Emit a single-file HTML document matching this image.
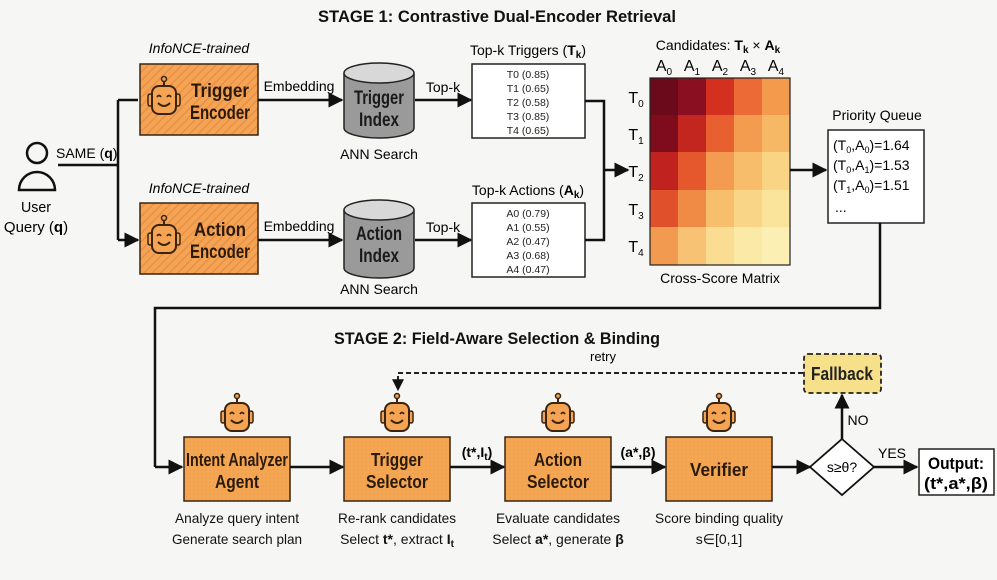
<!DOCTYPE html>
<html><head><meta charset="utf-8"><style>
html,body{margin:0;padding:0;background:#f6f6f4;}
svg{display:block;font-family:"Liberation Sans",Arial,sans-serif;}
</style></head><body>
<svg width="997" height="580" viewBox="0 0 997 580" xmlns="http://www.w3.org/2000/svg">
<defs>
<pattern id="st" width="6" height="6" patternUnits="userSpaceOnUse" patternTransform="rotate(45)">
<rect width="6" height="6" fill="#f4a452"/><rect width="1.5" height="6" fill="#e8904a"/></pattern>
<pattern id="dt" width="4" height="4" patternUnits="userSpaceOnUse">
<rect width="4" height="4" fill="#f5a653"/><circle cx="2" cy="2" r="0.6" fill="#e39448"/></pattern>
<marker id="ar" viewBox="0 0 10 10" refX="9" refY="5" markerWidth="6" markerHeight="6" orient="auto"><path d="M0,0L10,5L0,10z" fill="#111"/></marker>
<g id="rb">
<line x1="17" y1="4" x2="17" y2="10" stroke="#3a2410" stroke-width="2"/>
<circle cx="17" cy="3" r="2.5" fill="#f4a452" stroke="#3a2410" stroke-width="1.5"/>
<rect x="1" y="18" width="4" height="12" rx="2" fill="#f4a452" stroke="#3a2410" stroke-width="1.5"/>
<rect x="29" y="18" width="4" height="12" rx="2" fill="#f4a452" stroke="#3a2410" stroke-width="1.5"/>
<rect x="5" y="10" width="24" height="28" rx="7" fill="#f4a452" stroke="#3a2410" stroke-width="2"/>
<path d="M10,21q2,-3 4,0M20,21q2,-3 4,0" fill="none" stroke="#3a2410" stroke-width="1.8"/>
<path d="M11,27q6,6 12,0" fill="none" stroke="#3a2410" stroke-width="2"/>
</g>
</defs>

<text x="497" y="22" text-anchor="middle" font-size="17" font-weight="bold" fill="#111" textLength="358" lengthAdjust="spacingAndGlyphs">STAGE 1: Contrastive Dual-Encoder Retrieval</text>

<circle cx="37" cy="153" r="10" fill="none" stroke="#111" stroke-width="2.5"/>
<path d="M19,190 A18,18 0 0 1 55,190 Z" fill="none" stroke="#111" stroke-width="2.5"/>
<text x="36" y="212" text-anchor="middle" font-size="15" textLength="30" lengthAdjust="spacingAndGlyphs">User</text>
<text x="36" y="232" text-anchor="middle" font-size="15">Query (<tspan font-weight="bold">q</tspan>)</text>
<text x="56" y="158" font-size="14">SAME (<tspan font-weight="bold">q</tspan>)</text>
<path d="M58,165H118M118,100V240" fill="none" stroke="#111" stroke-width="2.5"/>
<path d="M118,100H138M118,240H138" fill="none" stroke="#111" stroke-width="2.5" marker-end="url(#ar)"/>

<text x="199" y="53" text-anchor="middle" font-size="14" font-style="italic">InfoNCE-trained</text>
<rect x="140" y="64" width="118" height="71" fill="url(#st)" stroke="#3a2410" stroke-width="1.5"/>
<use href="#rb" x="147" y="76"/>
<text x="220" y="97" text-anchor="middle" font-size="19" font-weight="bold" fill="#2a1a0a" textLength="58" lengthAdjust="spacingAndGlyphs">Trigger</text>
<text x="220" y="119" text-anchor="middle" font-size="19" font-weight="bold" fill="#2a1a0a" textLength="60" lengthAdjust="spacingAndGlyphs">Encoder</text>

<text x="199" y="193" text-anchor="middle" font-size="14" font-style="italic">InfoNCE-trained</text>
<rect x="140" y="203" width="118" height="71" fill="url(#st)" stroke="#3a2410" stroke-width="1.5"/>
<use href="#rb" x="147" y="215"/>
<text x="220" y="236" text-anchor="middle" font-size="19" font-weight="bold" fill="#2a1a0a" textLength="52" lengthAdjust="spacingAndGlyphs">Action</text>
<text x="220" y="258" text-anchor="middle" font-size="19" font-weight="bold" fill="#2a1a0a" textLength="60" lengthAdjust="spacingAndGlyphs">Encoder</text>

<text x="299" y="91" text-anchor="middle" font-size="14">Embedding</text>
<line x1="258" y1="100" x2="342" y2="100" stroke="#111" stroke-width="2.5" marker-end="url(#ar)"/>
<text x="299" y="231" text-anchor="middle" font-size="14">Embedding</text>
<line x1="258" y1="240" x2="342" y2="240" stroke="#111" stroke-width="2.5" marker-end="url(#ar)"/>

<path d="M344,73V128A35,10 0 0 0 414,128V73" fill="#9a9a9a" stroke="#222" stroke-width="1.5"/>
<ellipse cx="379" cy="73" rx="35" ry="10" fill="#d8d8d8" stroke="#222" stroke-width="1.5"/>
<text x="379" y="104" text-anchor="middle" font-size="19" font-weight="bold" fill="#1a1a1a" textLength="50" lengthAdjust="spacingAndGlyphs">Trigger</text>
<text x="379" y="126" text-anchor="middle" font-size="19" font-weight="bold" fill="#1a1a1a" textLength="40" lengthAdjust="spacingAndGlyphs">Index</text>
<text x="379" y="159" text-anchor="middle" font-size="14">ANN Search</text>
<path d="M344,210V268A35,10 0 0 0 414,268V210" fill="#9a9a9a" stroke="#222" stroke-width="1.5"/>
<ellipse cx="379" cy="210" rx="35" ry="10" fill="#d8d8d8" stroke="#222" stroke-width="1.5"/>
<text x="379" y="240" text-anchor="middle" font-size="19" font-weight="bold" fill="#1a1a1a" textLength="46" lengthAdjust="spacingAndGlyphs">Action</text>
<text x="379" y="262" text-anchor="middle" font-size="19" font-weight="bold" fill="#1a1a1a" textLength="40" lengthAdjust="spacingAndGlyphs">Index</text>
<text x="379" y="294" text-anchor="middle" font-size="14">ANN Search</text>

<text x="443" y="92" text-anchor="middle" font-size="14">Top-k</text>
<line x1="415" y1="100" x2="471" y2="100" stroke="#111" stroke-width="2.5" marker-end="url(#ar)"/>
<text x="443" y="232" text-anchor="middle" font-size="14">Top-k</text>
<line x1="415" y1="240" x2="471" y2="240" stroke="#111" stroke-width="2.5" marker-end="url(#ar)"/>

<text x="528" y="55" text-anchor="middle" font-size="14">Top-k Triggers (<tspan font-weight="bold">T</tspan><tspan font-weight="bold" font-size="10" dy="3">k</tspan><tspan dy="-3">)</tspan></text>
<rect x="472" y="64" width="113" height="74" fill="#fff" stroke="#222" stroke-width="1.5"/>
<g font-size="10.5" text-anchor="middle" fill="#222">
<text x="528" y="78">T0 (0.85)</text><text x="528" y="92">T1 (0.65)</text><text x="528" y="106">T2 (0.58)</text><text x="528" y="120">T3 (0.85)</text><text x="528" y="134">T4 (0.65)</text>
</g>
<text x="528" y="195" text-anchor="middle" font-size="14">Top-k Actions (<tspan font-weight="bold">A</tspan><tspan font-weight="bold" font-size="10" dy="3">k</tspan><tspan dy="-3">)</tspan></text>
<rect x="472" y="203" width="113" height="74" fill="#fff" stroke="#222" stroke-width="1.5"/>
<g font-size="10.5" text-anchor="middle" fill="#222">
<text x="528" y="217">A0 (0.79)</text><text x="528" y="231">A1 (0.55)</text><text x="528" y="245">A2 (0.47)</text><text x="528" y="259">A3 (0.68)</text><text x="528" y="273">A4 (0.47)</text>
</g>
<path d="M585,101H604V240H585" fill="none" stroke="#111" stroke-width="2.5"/>
<line x1="604" y1="170" x2="628" y2="170" stroke="#111" stroke-width="2.5" marker-end="url(#ar)"/>

<text x="718" y="50" text-anchor="middle" font-size="14">Candidates: <tspan font-weight="bold">T</tspan><tspan font-weight="bold" font-size="10" dy="3">k</tspan><tspan dy="-3"> × </tspan><tspan font-weight="bold">A</tspan><tspan font-weight="bold" font-size="10" dy="3">k</tspan></text>
<g font-size="16" text-anchor="middle">
<text x="664" y="71">A<tspan font-size="10" dy="4">0</tspan></text>
<text x="692" y="71">A<tspan font-size="10" dy="4">1</tspan></text>
<text x="720" y="71">A<tspan font-size="10" dy="4">2</tspan></text>
<text x="748" y="71">A<tspan font-size="10" dy="4">3</tspan></text>
<text x="776" y="71">A<tspan font-size="10" dy="4">4</tspan></text>
<text x="636" y="103">T<tspan font-size="10" dy="4">0</tspan></text>
<text x="636" y="140">T<tspan font-size="10" dy="4">1</tspan></text>
<text x="636" y="177">T<tspan font-size="10" dy="4">2</tspan></text>
<text x="636" y="215">T<tspan font-size="10" dy="4">3</tspan></text>
<text x="636" y="252">T<tspan font-size="10" dy="4">4</tspan></text>
</g>
<rect x="650" y="78" width="28" height="38" fill="#6b0a1a"/><rect x="678" y="78" width="28" height="38" fill="#8a0f20"/><rect x="706" y="78" width="28" height="38" fill="#d3301f"/><rect x="734" y="78" width="28" height="38" fill="#ec6a35"/><rect x="762" y="78" width="28" height="38" fill="#f39a4c"/>
<rect x="650" y="115" width="28" height="38" fill="#7e0c1c"/><rect x="678" y="115" width="28" height="38" fill="#c3261f"/><rect x="706" y="115" width="28" height="38" fill="#e8602f"/><rect x="734" y="115" width="28" height="38" fill="#f39c50"/><rect x="762" y="115" width="28" height="38" fill="#f7b865"/>
<rect x="650" y="152" width="28" height="38" fill="#c0231f"/><rect x="678" y="152" width="28" height="38" fill="#e5582d"/><rect x="706" y="152" width="28" height="38" fill="#f39b50"/><rect x="734" y="152" width="28" height="38" fill="#f7bd6a"/><rect x="762" y="152" width="28" height="38" fill="#f9d485"/>
<rect x="650" y="190" width="28" height="38" fill="#e0502a"/><rect x="678" y="190" width="28" height="38" fill="#f08b45"/><rect x="706" y="190" width="28" height="38" fill="#f7be6c"/><rect x="734" y="190" width="28" height="38" fill="#f9d588"/><rect x="762" y="190" width="28" height="38" fill="#fae39a"/>
<rect x="650" y="227" width="28" height="38" fill="#f29a4f"/><rect x="678" y="227" width="28" height="38" fill="#f7c274"/><rect x="706" y="227" width="28" height="38" fill="#fadc92"/><rect x="734" y="227" width="28" height="38" fill="#fbe9a8"/><rect x="762" y="227" width="28" height="38" fill="#fcefb4"/>
<rect x="650" y="78" width="140" height="187" fill="none" stroke="#222" stroke-width="1.2"/>
<text x="720" y="283" text-anchor="middle" font-size="14">Cross-Score Matrix</text>
<line x1="790" y1="170" x2="826" y2="170" stroke="#111" stroke-width="2.5" marker-end="url(#ar)"/>

<text x="877" y="120" text-anchor="middle" font-size="14">Priority Queue</text>
<rect x="828" y="130" width="96" height="93" fill="#fff" stroke="#222" stroke-width="1.5"/>
<g font-size="14">
<text x="833" y="150">(T<tspan font-size="9" dy="3">0</tspan><tspan dy="-3">,A</tspan><tspan font-size="9" dy="3">0</tspan><tspan dy="-3">)=1.64</tspan></text>
<text x="833" y="170">(T<tspan font-size="9" dy="3">0</tspan><tspan dy="-3">,A</tspan><tspan font-size="9" dy="3">1</tspan><tspan dy="-3">)=1.53</tspan></text>
<text x="833" y="190">(T<tspan font-size="9" dy="3">1</tspan><tspan dy="-3">,A</tspan><tspan font-size="9" dy="3">0</tspan><tspan dy="-3">)=1.51</tspan></text>
<text x="835" y="212">...</text>
</g>
<path d="M880,223V308H155V467" fill="none" stroke="#111" stroke-width="2.5"/>
<line x1="155" y1="467" x2="182" y2="467" stroke="#111" stroke-width="2.5" marker-end="url(#ar)"/>

<text x="497" y="344" text-anchor="middle" font-size="17" font-weight="bold" fill="#111" textLength="326" lengthAdjust="spacingAndGlyphs">STAGE 2: Field-Aware Selection &amp; Binding</text>

<g stroke="#3a2410" stroke-width="1.5" fill="url(#dt)">
<rect x="184" y="437" width="106" height="64"/>
<rect x="344" y="437" width="106" height="64"/>
<rect x="505" y="437" width="106" height="64"/>
<rect x="666" y="437" width="106" height="64"/>
</g>
<use href="#rb" x="220" y="393"/><use href="#rb" x="380" y="393"/><use href="#rb" x="541" y="393"/><use href="#rb" x="702" y="393"/>
<g font-size="18" font-weight="bold" text-anchor="middle" fill="#2a1a0a" lengthAdjust="spacingAndGlyphs">
<text x="237" y="466" textLength="102" lengthAdjust="spacingAndGlyphs">Intent Analyzer</text><text x="237" y="488" textLength="44" lengthAdjust="spacingAndGlyphs">Agent</text>
<text x="397" y="466" textLength="52" lengthAdjust="spacingAndGlyphs">Trigger</text><text x="397" y="488" textLength="62" lengthAdjust="spacingAndGlyphs">Selector</text>
<text x="558" y="466" textLength="48" lengthAdjust="spacingAndGlyphs">Action</text><text x="558" y="488" textLength="62" lengthAdjust="spacingAndGlyphs">Selector</text>
<text x="719" y="476" textLength="58" lengthAdjust="spacingAndGlyphs">Verifier</text>
</g>
<g font-size="14" text-anchor="middle" fill="#111">
<text x="237" y="523" textLength="124" lengthAdjust="spacingAndGlyphs">Analyze query intent</text><text x="237" y="544" textLength="130" lengthAdjust="spacingAndGlyphs">Generate search plan</text>
<text x="397" y="523" textLength="118" lengthAdjust="spacingAndGlyphs">Re-rank candidates</text><text x="397" y="544">Select <tspan font-weight="bold">t*</tspan>, extract <tspan font-weight="bold">I</tspan><tspan font-weight="bold" font-size="10" dy="3">t</tspan></text>
<text x="558" y="523" textLength="124" lengthAdjust="spacingAndGlyphs">Evaluate candidates</text><text x="558" y="544">Select <tspan font-weight="bold">a*</tspan>, generate <tspan font-weight="bold">β</tspan></text>
<text x="719" y="523" textLength="128" lengthAdjust="spacingAndGlyphs">Score binding quality</text><text x="719" y="544">s∈[0,1]</text>
</g>
<g stroke="#111" stroke-width="2.5" marker-end="url(#ar)">
<line x1="290" y1="467" x2="343" y2="467"/>
<line x1="450" y1="467" x2="504" y2="467"/>
<line x1="611" y1="467" x2="665" y2="467"/>
<line x1="772" y1="467" x2="810" y2="467"/>
<line x1="874" y1="467" x2="917" y2="467"/>
<line x1="842" y1="439" x2="842" y2="395"/>
</g>
<text x="477" y="457" text-anchor="middle" font-size="14" font-weight="bold">(t*,I<tspan font-size="10" dy="3">t</tspan><tspan dy="-3">)</tspan></text>
<text x="638" y="457" text-anchor="middle" font-size="14" font-weight="bold">(a*,β)</text>

<path d="M842,439L874,467L842,495L810,467Z" fill="#fff" stroke="#111" stroke-width="1.8"/>
<text x="842" y="472" text-anchor="middle" font-size="14">s≥θ?</text>
<text x="892" y="458" text-anchor="middle" font-size="14">YES</text>
<text x="858" y="425" text-anchor="middle" font-size="14">NO</text>
<rect x="919" y="449" width="75" height="46" fill="#fff" stroke="#222" stroke-width="1.5"/>
<text x="956" y="469" text-anchor="middle" font-size="17" font-weight="bold" textLength="56" lengthAdjust="spacingAndGlyphs">Output:</text>
<text x="956" y="489" text-anchor="middle" font-size="17" font-weight="bold" textLength="64" lengthAdjust="spacingAndGlyphs">(t*,a*,β)</text>

<rect x="804" y="354" width="77" height="39" rx="4" fill="#f7e08a" stroke="#222" stroke-width="1.8" stroke-dasharray="5,3"/>
<text x="842" y="380" text-anchor="middle" font-size="18" font-weight="bold" fill="#222" textLength="62" lengthAdjust="spacingAndGlyphs">Fallback</text>
<path d="M803,373H398V390" fill="none" stroke="#222" stroke-width="2" stroke-dasharray="5,3" marker-end="url(#ar)"/>
<text x="603" y="361" text-anchor="middle" font-size="13">retry</text>
</svg>
</body></html>
